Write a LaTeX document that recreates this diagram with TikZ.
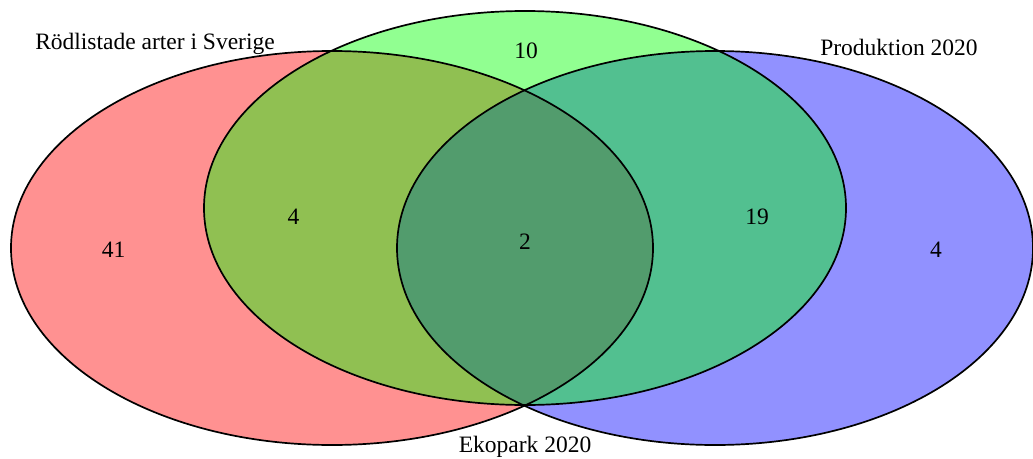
\documentclass[tikz,border=0pt]{standalone}
\usepackage{fontspec}
\setmainfont{Liberation Serif}
\begin{document}
\begin{tikzpicture}[x=1pt,y=-1pt,
  setfill/.style={fill=#1,fill opacity=0.43,draw=none},
  setline/.style={draw=black,line width=1.7pt},
  lbl/.style={font=\fontsize{23.5}{28}\selectfont,inner sep=0pt,anchor=base},
  num/.style={font=\fontsize{23.5}{28}\selectfont,inner sep=0pt}]
\useasboundingbox (0,0) rectangle (1033,458);
% fills (order: red, blue, green)
\fill[setfill=red] (332,248) ellipse [x radius=321, y radius=197];
\fill[setfill=blue] (715,248) ellipse [x radius=318, y radius=197];
\fill[setfill=green] (525,208) ellipse [x radius=321, y radius=197];
% outlines
\draw[setline] (332,248) ellipse [x radius=321, y radius=197];
\draw[setline] (715,248) ellipse [x radius=318, y radius=197];
\draw[setline] (525,208) ellipse [x radius=321, y radius=197];
% set labels
\node[lbl] (lred) at (155,49) {Rödlistade arter i Sverige};
\node[lbl] (lblue) at (899,55) {Produktion 2020};
\node[lbl] (lgreen) at (525,452) {Ekopark 2020};
% counts
\node[num] (nR) at (113.5,250) {41};
\node[num] (nG) at (526,51) {10};
\node[num] (nB) at (936,250) {4};
\node[num] (nRG) at (293.5,216.5) {4};
\node[num] (nGB) at (757,217) {19};
\node[num] (nRGB) at (525,242) {2};
\end{tikzpicture}
\end{document}
